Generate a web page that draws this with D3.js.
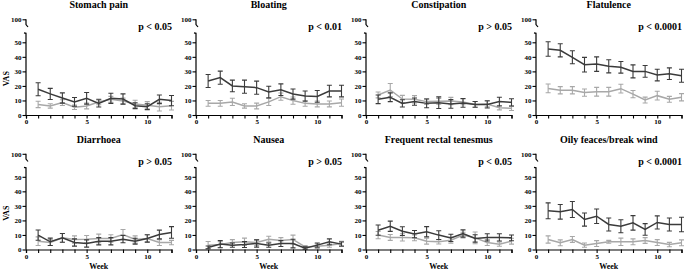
<!DOCTYPE html>
<html>
<head>
<meta charset="utf-8">
<script src="https://cdn.jsdelivr.net/npm/d3@7"></script>
<style>
  body { margin: 0; background: #fff; }
  svg { display: block; }
  text { font-family: "Liberation Serif", "DejaVu Serif", serif; font-weight: bold; }
</style>
</head>
<body>
<svg id="chart" width="685" height="273"></svg>
<script>
// ---- data ----
var weeks = [1, 2, 3, 4, 5, 6, 7, 8, 9, 10, 11, 12];
var titles = ["Stomach pain", "Bloating", "Constipation", "Flatulence",
              "Diarrhoea", "Nausea", "Frequent rectal tenesmus", "Oily feaces/break wind"];
var pLabels = ["p < 0.05", "p < 0.01", "p > 0.05", "p < 0.0001",
               "p > 0.05", "p > 0.05", "p < 0.05", "p < 0.0001"];

// dark line (group A) means and error bars
var darkMeans = [
  [17.7, 14.5, 11.7, 9.0, 11.5, 8.0, 11.5, 11.0, 6.4, 5.7, 10.8, 9.9],
  [23.4, 25.7, 20.0, 19.5, 18.8, 15.8, 17.4, 14.4, 13.0, 12.8, 16.5, 16.5],
  [10.8, 12.2, 8.0, 9.2, 8.0, 8.5, 7.6, 8.3, 7.3, 7.3, 9.2, 8.7],
  [45.4, 44.5, 39.7, 34.6, 35.0, 33.5, 32.8, 30.0, 30.0, 27.5, 28.4, 27.0],
  [9.9, 5.3, 8.0, 4.8, 4.1, 5.7, 5.7, 7.1, 5.7, 7.6, 10.3, 11.7],
  [1.4, 3.7, 3.0, 3.4, 4.1, 3.0, 4.1, 4.1, 0.9, 3.0, 5.3, 3.7],
  [13.3, 16.0, 12.6, 10.6, 12.2, 9.9, 8.0, 11.0, 7.6, 8.3, 8.3, 8.0],
  [26.6, 25.9, 27.5, 20.6, 22.9, 17.2, 16.0, 18.3, 13.8, 18.6, 17.2, 17.2]
];
var darkErrors = [
  [4.5, 3.8, 3.5, 3.0, 4.0, 2.5, 3.5, 3.5, 2.0, 2.0, 3.0, 3.5],
  [4.5, 4.5, 4.0, 4.5, 4.5, 4.0, 4.0, 3.5, 3.5, 4.0, 4.0, 4.0],
  [3.0, 3.0, 2.5, 2.5, 3.0, 4.0, 3.0, 3.0, 2.0, 2.5, 3.0, 2.5],
  [5.0, 4.5, 4.5, 5.0, 5.0, 4.5, 4.0, 4.5, 4.0, 4.0, 4.0, 4.5],
  [3.5, 2.5, 3.0, 2.5, 2.5, 2.5, 2.5, 2.5, 2.0, 2.5, 3.0, 4.0],
  [1.0, 2.5, 1.5, 2.0, 2.5, 1.5, 2.0, 3.0, 1.0, 1.5, 2.0, 1.5],
  [3.5, 3.5, 3.0, 2.5, 3.5, 3.0, 2.5, 2.5, 2.5, 2.5, 2.5, 2.0],
  [5.5, 5.0, 5.5, 4.5, 5.0, 4.5, 4.5, 5.0, 4.0, 4.5, 4.5, 5.0]
];

// light line (group B) means and error bars
var lightMeans = [
  [7.3, 6.2, 8.5, 5.3, 6.2, 9.0, 10.8, 9.6, 7.6, 6.7, 5.7, 6.4],
  [8.0, 8.0, 9.0, 6.2, 6.2, 9.0, 12.6, 9.9, 8.0, 7.6, 7.6, 8.5],
  [13.8, 17.2, 11.0, 10.8, 9.2, 9.4, 9.6, 9.0, 7.3, 7.6, 5.0, 4.6],
  [18.3, 17.0, 17.0, 15.4, 16.0, 16.0, 18.1, 14.4, 10.3, 13.3, 10.8, 12.2],
  [5.7, 4.8, 8.0, 6.9, 7.1, 7.6, 7.6, 10.3, 6.9, 7.6, 4.8, 4.8],
  [3.0, 3.4, 4.8, 5.3, 4.8, 7.1, 6.2, 6.9, 1.8, 2.3, 3.0, 4.1],
  [9.9, 8.3, 8.3, 8.0, 5.7, 5.3, 6.4, 9.9, 8.0, 4.8, 3.7, 5.7],
  [6.9, 4.6, 6.9, 3.0, 4.1, 5.3, 5.3, 5.3, 6.2, 4.8, 3.4, 4.6]
];
var lightErrors = [
  [2.2, 1.5, 2.0, 1.5, 2.0, 2.0, 2.0, 2.0, 2.5, 2.5, 3.0, 3.0],
  [2.0, 2.0, 2.5, 1.5, 2.0, 2.5, 2.5, 2.5, 2.0, 2.0, 2.0, 2.5],
  [2.0, 4.5, 2.5, 2.5, 2.0, 2.0, 2.5, 2.0, 2.0, 2.0, 1.5, 1.5],
  [3.0, 2.5, 2.5, 2.5, 3.0, 3.0, 3.0, 2.5, 2.0, 3.0, 2.0, 2.5],
  [3.0, 2.0, 3.0, 2.5, 2.5, 3.0, 2.5, 3.5, 2.5, 2.5, 2.0, 1.5],
  [2.5, 2.0, 2.0, 2.5, 2.0, 2.0, 2.0, 3.0, 1.0, 1.5, 1.5, 1.5],
  [2.5, 2.0, 2.5, 2.0, 2.0, 1.5, 2.0, 2.0, 4.0, 2.0, 1.5, 2.0],
  [2.5, 2.0, 2.0, 1.5, 2.0, 1.0, 2.5, 2.0, 2.0, 2.0, 1.5, 2.0]
];

var yTicksLow = [0, 10, 20, 30, 40, 50];
var yTicksHigh = [100];
var xTicks = [0, 1, 2, 3, 4, 5, 6, 7, 8, 9, 10, 11, 12];
var xLabelled = [0, 5, 10];

// ---- layout ----
var darkColor = "#3b3b3b";
var lightColor = "#a8a8a8";
var colStep = 170, rowStep = 134.5;
var axisX = 26;          // y axis position inside a panel
var plotW = 145.5;       // week 0 -> 12
var zeroY = 115;         // y of value 0 inside a row
var svg = d3.select("#chart");

titles.forEach(function(title, i) {
  var col = i % 4, row = Math.floor(i / 4);
  var g = svg.append("g")
      .attr("transform", "translate(" + (col * colStep) + "," + (row * rowStep) + ")");

  var x = d3.scaleLinear().domain([0, 12]).range([axisX, axisX + plotW]);
  var y = d3.scaleLinear().domain([0, 50]).range([zeroY, zeroY - 72.7]);
  var yHigh = d3.scaleLinear().domain([96, 100]).range([24.5, 19.3]);

  // title and p value
  g.append("text")
      .attr("x", axisX + plotW / 2).attr("y", 8)
      .attr("text-anchor", "middle")
      .style("font-size", "10px")
      .text(title);
  g.append("text")
      .attr("x", axisX + plotW + 0.5).attr("y", 30)
      .attr("text-anchor", "end")
      .style("font-size", "10px")
      .text(pLabels[i]);

  // y axis, lower part
  var yAxis = g.append("g")
      .attr("transform", "translate(" + axisX + ",0)")
      .call(d3.axisLeft(y).tickValues(yTicksLow).tickSize(3.5).tickPadding(1).tickFormat(d3.format("d")));
  // y axis, upper part
  var yAxisHigh = g.append("g")
      .attr("transform", "translate(" + axisX + ",0)")
      .call(d3.axisLeft(yHigh).tickValues(yTicksHigh).tickSize(3.5).tickPadding(1).tickFormat(d3.format("d")));
  [yAxis, yAxisHigh].forEach(function(a) {
    a.select(".domain").remove();
    a.selectAll("line").attr("stroke", "#000").attr("stroke-width", 1.1);
    a.selectAll("text").style("font-size", "7px").attr("fill", "#000")
        .style("font-family", "'Liberation Serif', serif").style("font-weight", "bold");
  });

  // axis line with the break
  var brk = d3.path();
  brk.moveTo(axisX, yHigh(100));
  brk.lineTo(axisX, yHigh(96));
  brk.lineTo(axisX + 2, yHigh(96) + 2.5);
  brk.moveTo(axisX - 2, y(50) - 9.5);
  brk.lineTo(axisX, y(50) - 9);
  brk.lineTo(axisX, y(0));
  g.append("path").attr("d", brk.toString())
      .attr("fill", "none").attr("stroke", "#000").attr("stroke-width", 1.2);

  // x axis
  var xAxis = g.append("g")
      .attr("transform", "translate(0," + zeroY + ")")
      .call(d3.axisBottom(x).tickValues(xTicks).tickSize(3.5).tickPadding(1)
          .tickFormat(function(d) { return xLabelled.indexOf(d) >= 0 ? d : ""; }));
  xAxis.select(".domain").attr("stroke", "#000").attr("stroke-width", 1.2);
  xAxis.selectAll("line").attr("stroke", "#000").attr("stroke-width", 1.1);
  xAxis.selectAll("text").style("font-size", "7px").attr("fill", "#000")
      .style("font-family", "'Liberation Serif', serif").style("font-weight", "bold");

  // axis titles
  if (col === 0) {
    g.append("text")
        .attr("transform", "translate(9," + y(25) + ") rotate(-90)")
        .attr("text-anchor", "middle")
        .style("font-size", "8px")
        .text("VAS");
  }
  if (row === 1) {
    g.append("text")
        .attr("x", axisX + plotW / 2).attr("y", zeroY + 19)
        .attr("text-anchor", "middle")
        .style("font-size", "8px")
        .text("Week");
  }

  // series: light first, dark on top
  var series = [
    { means: lightMeans[i], errs: lightErrors[i], color: lightColor },
    { means: darkMeans[i], errs: darkErrors[i], color: darkColor }
  ];
  var line = d3.line().x(function(d) { return x(d.w); }).y(function(d) { return y(d.m); });

  series.forEach(function(s) {
    var pts = weeks.map(function(w, k) { return { w: w, m: s.means[k], e: s.errs[k] }; });
    var sg = g.append("g");
    sg.append("path").datum(pts)
        .attr("d", line)
        .attr("fill", "none").attr("stroke", s.color).attr("stroke-width", 1.5);
    var bars = sg.selectAll(".err").data(pts).enter().append("path")
        .attr("class", "err")
        .attr("d", function(d) {
          var p = d3.path(), cx = x(d.w), top = y(d.m + d.e), bot = y(Math.max(0, d.m - d.e));
          p.moveTo(cx, top); p.lineTo(cx, bot);
          p.moveTo(cx - 2.5, top); p.lineTo(cx + 2.5, top);
          p.moveTo(cx - 2.5, bot); p.lineTo(cx + 2.5, bot);
          return p.toString();
        })
        .attr("fill", "none").attr("stroke", s.color).attr("stroke-width", 1.1);
  });
});
</script>
</body>
</html>
